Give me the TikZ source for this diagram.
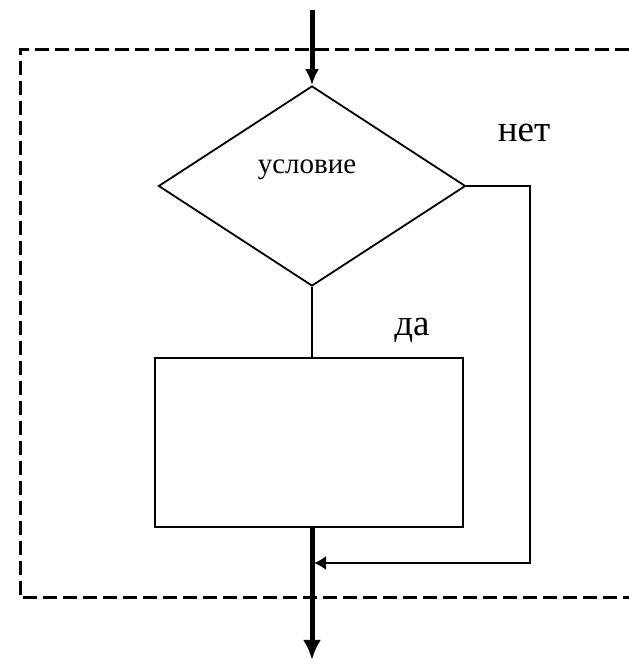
\documentclass[tikz,border=0pt]{standalone}
\usepackage{fontspec}
\setmainfont{Liberation Serif}
\usepackage{tikz}
\usetikzlibrary{shapes.geometric,arrows.meta}

\begin{document}
\begin{tikzpicture}[x=1pt,y=1pt]
\useasboundingbox (0,0) rectangle (629,665);
\tikzset{
  thinline/.style={draw=black,line width=1.8},
  mainline/.style={draw=black,line width=5},
  word/.style={font=\fontsize{37}{40}\selectfont,inner sep=0}
}
% objects at depth 50:
\path[draw=black,line width=3,dash pattern=on 14 off 6] (629,615) -- (20,615) -- (20,67) -- (629,67);
\node[diamond,thinline,minimum width=307,minimum height=200,inner sep=0] (cond) at (312,479) {};
\node[font=\fontsize{29}{32}\selectfont,inner sep=0] (condtext) at (307,495) {условие};
\node[rectangle,thinline,minimum width=308,minimum height=169,inner sep=0] (body) at (309,222.5) {};
\node[word] (no) at (524,532) {нет};
\node[word] (yes) at (412,335) {да};
\coordinate (entry) at (312,655);
\coordinate (exit) at (312,5);
\coordinate (corner1) at (530,479);
\coordinate (corner2) at (530,102);
\coordinate (join) at (314,102);
% connectors:
\path[mainline,-{Latex[length=16,width=14]}] (entry) -- (cond.north);
\path[thinline] (cond.south) -- (cond.south |- body.north);
\path[mainline,-{Latex[length=20,width=18]}] (cond.south |- body.south) -- (exit);
\path[thinline,-{Latex[length=12,width=14]}] (cond.east) -- (corner1) -- (corner2) -- (join);
\end{tikzpicture}
\end{document}
